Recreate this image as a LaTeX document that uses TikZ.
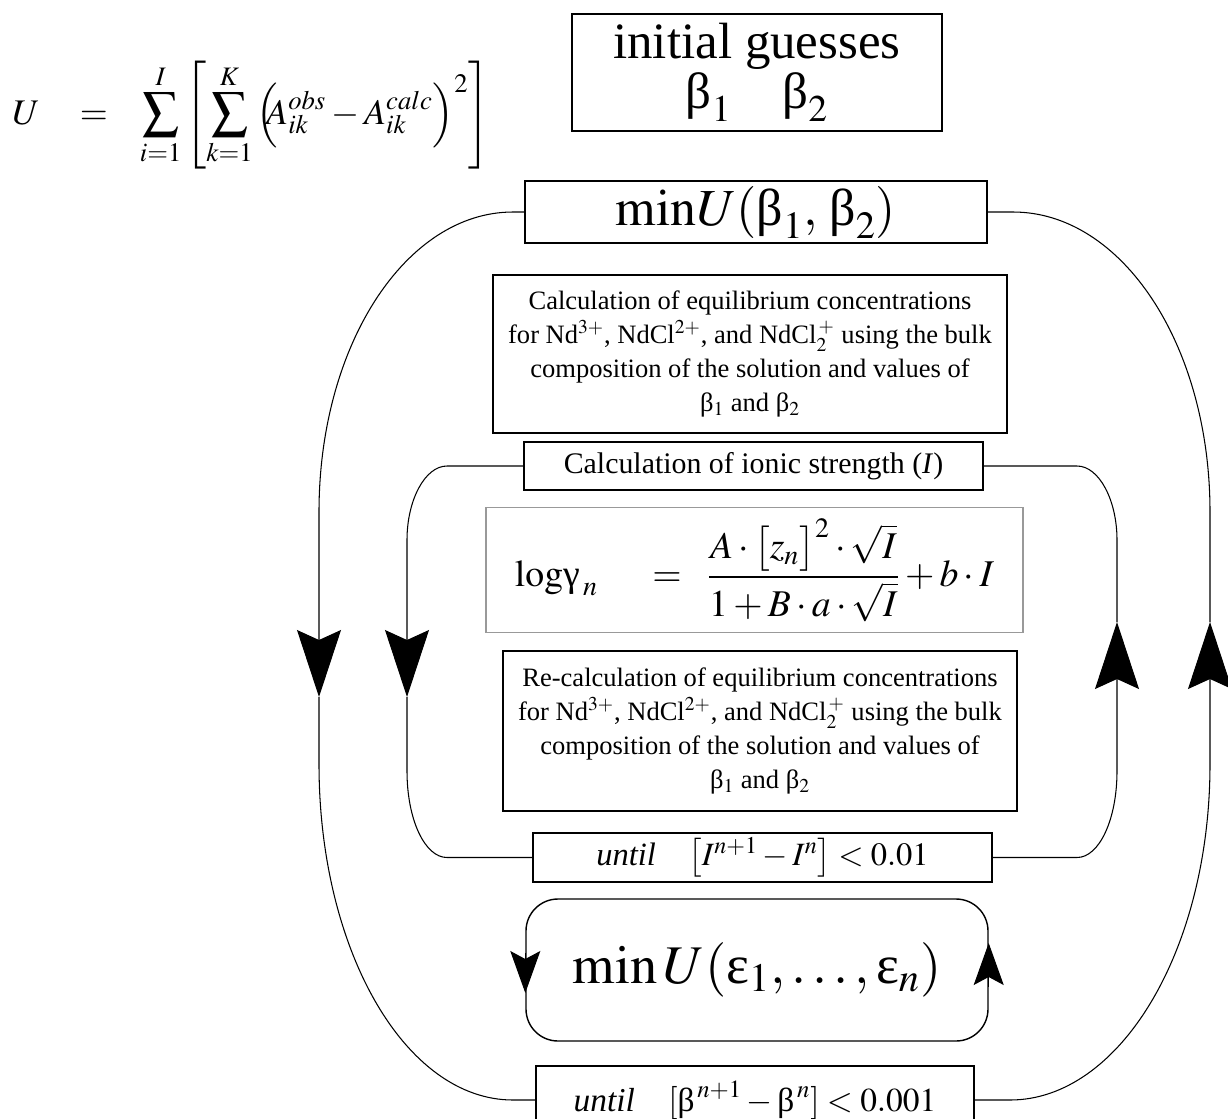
\documentclass[tikz,border=0pt]{standalone}
\usepackage{amsmath}
\usepackage{mathptmx}
\usepackage{fontspec}
\setmainfont{Liberation Serif}
\usepackage{tikz}
\usetikzlibrary{arrows.meta,calc}
\newcommand{\pxu}{0.2mm}
\newcommand{\gbeta}{\text{β}}
\newcommand{\ggamma}{\text{γ}}
\newcommand{\geps}{\text{ε}}
\tikzset{flowbox/.style={draw,line width=.8pt,inner sep=0pt,align=center}, formbox/.style={draw=black!40,line width=.6pt,inner sep=0pt,align=center},loopline/.style={line width=.6pt},bigtip/.style={-{Stealth[length=13.4mm,width=8.8mm,inset=2mm]}},smalltip/.style={-{Stealth[length=8.4mm,width=6mm,inset=1.6mm]}}, boxtext/.style={font=\fontsize{15.1}{19.3}\selectfont}}

\begin{document}
\begin{tikzpicture}[x=\pxu,y=-\pxu]
\useasboundingbox (0,0) rectangle (1228,1118);
\node[font=\fontsize{20.5}{25}\selectfont,anchor=west,inner sep=0pt] (ufun) at (12,115) {$\displaystyle U\mkern16mu=\mkern12mu\sum_{i=1}^{I}\left[\sum_{k=1}^{K}\left(\mkern-6mu A_{ik}^{obs}-A_{ik}^{calc}\right)^{2}\right]$};
\node[flowbox,minimum width=370*\pxu,minimum height=117*\pxu,font=\fontsize{29}{28.5}\selectfont] (guess) at (757,72.5) {initial guesses\\$\gbeta_1\quad\gbeta_2$};
\node[flowbox,minimum width=462*\pxu,minimum height=62*\pxu,font=\fontsize{29.6}{32}\selectfont] (minU) at (756,212) {$\mathrm{min}U(\gbeta_1,\,\gbeta_2)$};
\node[flowbox,boxtext,minimum width=514*\pxu,minimum height=158*\pxu] (calc) at (750,354) {Calculation of equilibrium concentrations\\for Nd$^{3+}$, NdCl$^{2+}$, and NdCl$_2^{\,+}$ using the bulk\\composition of the solution and values of\\β$_1$ and β$_2$};
\node[flowbox,minimum width=459*\pxu,minimum height=48*\pxu,font=\fontsize{17}{20}\selectfont] (ionic) at (753.5,466) {Calculation of ionic strength (\textit{I})};
\node[formbox,minimum width=537*\pxu,minimum height=125*\pxu,font=\fontsize{21.5}{25}\selectfont] (logg) at (754.5,570) {$\mathrm{log}\ggamma_{\,n}\quad\;=\;\;\dfrac{A\cdot\bigl[z_n\bigr]^2\cdot\sqrt{I}}{1+B\cdot a\cdot\sqrt{I}}+b\cdot I$};
\node[flowbox,boxtext,minimum width=514*\pxu,minimum height=160*\pxu] (recalc) at (760,731) {Re-calculation of equilibrium concentrations\\for Nd$^{3+}$, NdCl$^{2+}$, and NdCl$_2^{\,+}$ using the bulk\\composition of the solution and values of\\β$_1$ and β$_2$};
\node[flowbox,minimum width=459*\pxu,minimum height=49*\pxu,font=\fontsize{18.5}{22}\selectfont] (untilI) at (762.5,857.5) {\textit{until}\quad$\bigl[I^{n+1}-I^{n}\bigr]<0.01$};
\node[flowbox,rounded corners=6.4mm,minimum width=462*\pxu,minimum height=142*\pxu,font=\fontsize{31}{36}\selectfont] (minE) at (757,970) {$\min U(\geps_1,\ldots,\geps_n)$};
\node[flowbox,minimum width=438*\pxu,minimum height=68*\pxu,font=\fontsize{19}{22}\selectfont] (untilB) at (755,1100) {\textit{until}\quad$[\gbeta^{\,n+1}-\gbeta^{\,n}]<0.001$};
\coordinate (tipOL) at (319,697);
\coordinate (tipIL) at (407,697);
\coordinate (tipIR) at (1117,622);
\coordinate (tipOR) at (1210,622);
\draw[loopline,bigtip] (minU.west) -- (513,212) .. controls (406,212) and (319,345) .. (319,512) -- (tipOL);
\draw[loopline] (tipOL) -- (319,764) .. controls (319,950) and (405,1100) .. (513,1100) -- (untilB.west);
\draw[loopline,bigtip] (untilB.east) -- (1010,1100) .. controls (1120,1100) and (1210,950) .. (1210,764) -- (tipOR);
\draw[loopline] (tipOR) -- (1210,512) .. controls (1210,345) and (1122,212) .. (1013,212) -- (minU.east);
\draw[loopline,bigtip] (ionic.west) -- (447,466) .. controls (425,466) and (407,500) .. (407,540) -- (tipIL);
\draw[loopline] (tipIL) -- (407,771) .. controls (407,820) and (425,857.5) .. (447,857.5) -- (untilI.west);
\draw[loopline,bigtip] (untilI.east) -- (1077,857.5) .. controls (1099,857.5) and (1117,820) .. (1117,771) -- (tipIR);
\draw[loopline] (tipIR) -- (1117,540) .. controls (1117,500) and (1099,466) .. (1077,466) -- (ionic.east);
\draw[loopline,smalltip] ($(minE.west)+(0,-17)$) -- ($(minE.west)+(0,23)$);
\draw[loopline,smalltip] ($(minE.east)+(0,17)$) -- ($(minE.east)+(0,-27)$);
\end{tikzpicture}
\end{document}
